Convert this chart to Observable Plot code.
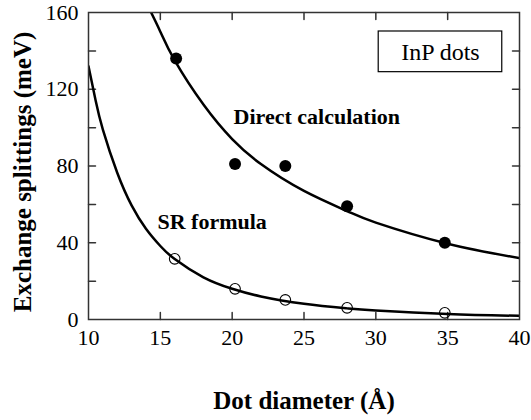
<!DOCTYPE html>
<html><head><meta charset="utf-8">
<script src="https://cdn.jsdelivr.net/npm/d3@7"></script>
<script src="https://cdn.jsdelivr.net/npm/@observablehq/plot@0.6"></script>
<style>body{margin:0;background:#fff} svg{font-family:"Liberation Serif",serif}</style>
</head><body><div id="chart"></div>
<script>
// Direct calculation (filled dots)
const directDiameter = [16.1, 20.2, 23.7, 28.0, 34.8];
const directSplitting = [136, 81, 80, 59, 40];
// SR formula (open circles)
const srDiameter = [16.0, 20.2, 23.7, 28.0, 34.8];
const srSplitting = [31.6, 16.0, 10.2, 6.1, 3.5];
// fitted curves
const directCurveX = [14.36, 15, 16, 18, 20, 22, 25, 28, 30, 35, 40];
const directCurveY = [160, 150, 135, 112, 94, 81, 67, 56.5, 50.5, 39.5, 32];
const srCurveX = [10, 10.5, 11, 12, 13, 14, 15, 16, 18, 20, 22, 25, 28, 30, 35, 40];
const srCurveY = [132, 114, 99, 76.5, 59.5, 47.3, 38.3, 31.5, 22, 16, 12, 8.2, 5.8, 4.7, 2.9, 1.9];
// axes
const xDomain = [10, 40];
const yDomain = [0, 160];
const xTickLabels = [10, 15, 20, 25, 30, 35, 40];
const yTickLabels = [0, 40, 80, 120, 160];
const xInnerTicks = [15, 20, 25, 30, 35];
const yInnerTicks = [20, 40, 60, 80, 100, 120, 140];
const xTitle = "Dot diameter (Å)";
const yTitle = "Exchange splittings (meV)";
// annotations
const noteText = ["Direct calculation", "SR formula"];
const noteX = [20.1, 14.8];
const noteY = [105.6, 50.9];
const legendText = ["InP dots"];
const legendX = [34.5];
const legendY = [139.5];
const legendBox = [{x1: 30.2, x2: 38.8, y1: 128.9, y2: 150.1}];

const frameColor = "#333";
const zip = (xs, ys) => xs.map((x, i) => ({x, y: ys[i]}));
const directPts = zip(directDiameter, directSplitting);
const srPts = zip(srDiameter, srSplitting);
const directCurve = zip(directCurveX, directCurveY);
const srCurve = zip(srCurveX, srCurveY);
const notes = noteText.map((t, i) => ({t, x: noteX[i], y: noteY[i]}));
const legend = legendText.map((t, i) => ({t, x: legendX[i], y: legendY[i]}));
const tickOpts = {length: 7, anchor: "start", r: 0, stroke: frameColor, strokeWidth: 1.5};

const plot = Plot.plot({
  width: 531, height: 420,
  marginLeft: 88, marginRight: 12, marginTop: 12, marginBottom: 101,
  x: {domain: xDomain},
  y: {domain: yDomain},
  style: {fontFamily: "Liberation Serif", background: "white", color: "black", overflow: "visible"},
  marks: [
    Plot.axisX(xTickLabels, {tickSize: 0, tickPadding: 10, fontSize: 22, label: null}),
    Plot.axisY(yTickLabels, {tickSize: 0, tickPadding: 10, fontSize: 22, label: null}),
    Plot.vector(xInnerTicks, {x: d => d, y: yDomain[0], rotate: 0, ...tickOpts}),
    Plot.vector(xInnerTicks, {x: d => d, y: yDomain[1], rotate: 180, ...tickOpts}),
    Plot.vector(yInnerTicks, {y: d => d, x: xDomain[0], rotate: 90, ...tickOpts}),
    Plot.vector(yInnerTicks, {y: d => d, x: xDomain[1], rotate: -90, ...tickOpts}),
    Plot.line(directCurve, {x: "x", y: "y", curve: "natural", stroke: "black", strokeWidth: 2.5, clip: true}),
    Plot.line(srCurve, {x: "x", y: "y", curve: "natural", stroke: "black", strokeWidth: 2.5, clip: true}),
    Plot.dot(directPts, {x: "x", y: "y", r: 6, fill: "black", stroke: "none"}),
    Plot.dot(srPts, {x: "x", y: "y", r: 5.3, fill: "none", stroke: "black", strokeWidth: 1.1}),
    Plot.text(notes, {x: "x", y: "y", text: "t", textAnchor: "start", lineAnchor: "middle", fontSize: 22, fontWeight: "bold"}),
    Plot.rect(legendBox, {x1: "x1", x2: "x2", y1: "y1", y2: "y2", fill: "white", stroke: "black", strokeWidth: 1.2}),
    Plot.text(legend, {x: "x", y: "y", text: "t", lineAnchor: "middle", fontSize: 24}),
    Plot.frame({stroke: frameColor, strokeWidth: 1.5}),
    Plot.text([xTitle], {text: d => d, frameAnchor: "bottom", textAnchor: "middle", dy: 81, lineAnchor: "middle", fontSize: 25, fontWeight: "bold"}),
    Plot.text([yTitle], {text: d => d, frameAnchor: "left", textAnchor: "middle", rotate: -90, dx: -66, dy: 6, lineAnchor: "middle", fontSize: 25, fontWeight: "bold"})
  ]
});
document.getElementById("chart").appendChild(plot);
</script>
</body></html>
